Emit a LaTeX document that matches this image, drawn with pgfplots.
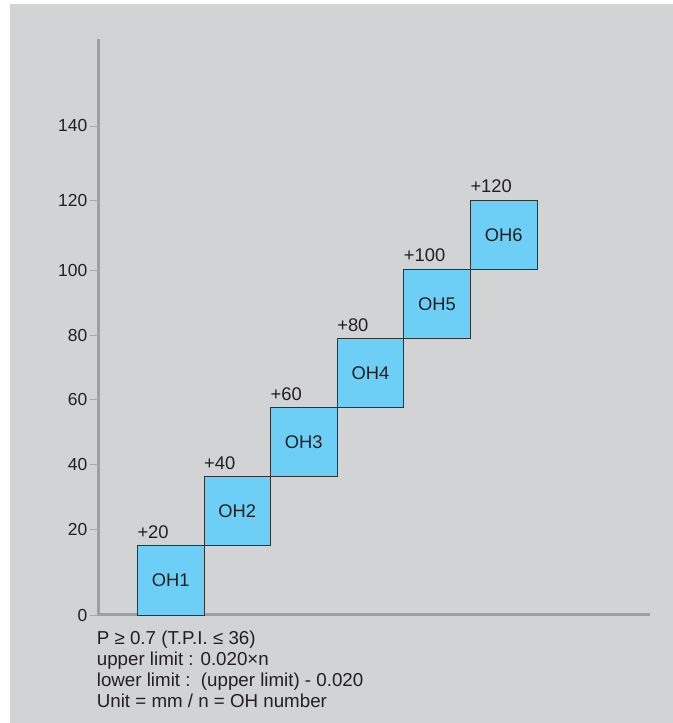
\documentclass[border=0pt]{standalone}
\usepackage{pgfplots}
\pgfplotsset{compat=1.18}
\usepackage{fontspec}
\setmainfont{Liberation Sans}
\definecolor{bg}{HTML}{D1D3D4}
\definecolor{axc}{HTML}{9D9FA2}
\definecolor{tickc}{HTML}{A7A9AC}
\definecolor{boxc}{HTML}{6DCFF6}
\definecolor{txt}{HTML}{231F20}
\newcommand{\fs}{\fontsize{17.5}{21}\selectfont}
\newcommand{\fl}{\fontsize{18.4}{21}\selectfont}
\newcommand{\fb}{\fontsize{18.8}{21}\selectfont}
\begin{document}
\begin{tikzpicture}[x=1bp,y=1bp]
\fill[white] (-98.5,-108) rectangle (574.5,615);
\fill[bg] (-88.5,-108) rectangle (574.5,611);
\begin{axis}[
  scale only axis, x=66.6bp, y=69.1bp,
  xmin=-0.083, xmax=8.194, ymin=0, ymax=8.34,
  clip=false,
  axis x line=bottom, axis y line=left,
  axis line style={-, line width=3bp, draw=axc, line cap=butt},
  xtick=\empty,
  ytick={0,1.243,2.178,3.117,4.051,4.981,5.993,7.077},
  yticklabels={0,20,40,60,80,100,120,140},
  tick align=outside, major tick length=8bp,
  ytick style={draw=tickc, line width=0.8bp},
  yticklabel style={font=\fs, text=txt, inner sep=0pt, xshift=-3bp},
  /pgf/number format/assume math mode=true,
]
\addplot[fill=boxc, draw=black!80, line width=0.8bp] coordinates {(0.5,0)(1.5,0)(1.5,1)(0.5,1)} -- cycle;
\addplot[fill=boxc, draw=black!80, line width=0.8bp] coordinates {(1.5,1)(2.5,1)(2.5,2)(1.5,2)} -- cycle;
\addplot[fill=boxc, draw=black!80, line width=0.8bp] coordinates {(2.5,2)(3.5,2)(3.5,3)(2.5,3)} -- cycle;
\addplot[fill=boxc, draw=black!80, line width=0.8bp] coordinates {(3.5,3)(4.5,3)(4.5,4)(3.5,4)} -- cycle;
\addplot[fill=boxc, draw=black!80, line width=0.8bp] coordinates {(4.5,4)(5.5,4)(5.5,5)(4.5,5)} -- cycle;
\addplot[fill=boxc, draw=black!80, line width=0.8bp] coordinates {(5.5,5)(6.5,5)(6.5,6)(5.5,6)} -- cycle;
\foreach \i/\lab in {1/+20,2/+40,3/+60,4/+80,5/+100,6/+120} {
  \edef\temp{\noexpand\node[anchor=base west, inner sep=0pt, yshift=7.5bp, font=\noexpand\fl, text=txt] at (axis cs:\i-0.5,\i) {\lab};
  \noexpand\node[font=\noexpand\fl, text=txt] at (axis cs:\i,\i-0.5) {OH\i};}
  \temp
}
\end{axis}
\node[anchor=base west, inner sep=0pt, font=\fb, text=txt] at (-1.8,-29.3) {P ≥ 0.7 (T.P.I. ≤ 36)};
\node[anchor=base west, inner sep=0pt, font=\fb, text=txt] at (-1.8,-50) {upper limit : 0.020×n};
\node[anchor=base west, inner sep=0pt, font=\fb, text=txt] at (-1.8,-71.5) {lower limit :\ \ (upper limit) - 0.020};
\node[anchor=base west, inner sep=0pt, font=\fb, text=txt] at (-1.8,-92.7) {Unit = mm / n = OH number};
\end{tikzpicture}
\end{document}
